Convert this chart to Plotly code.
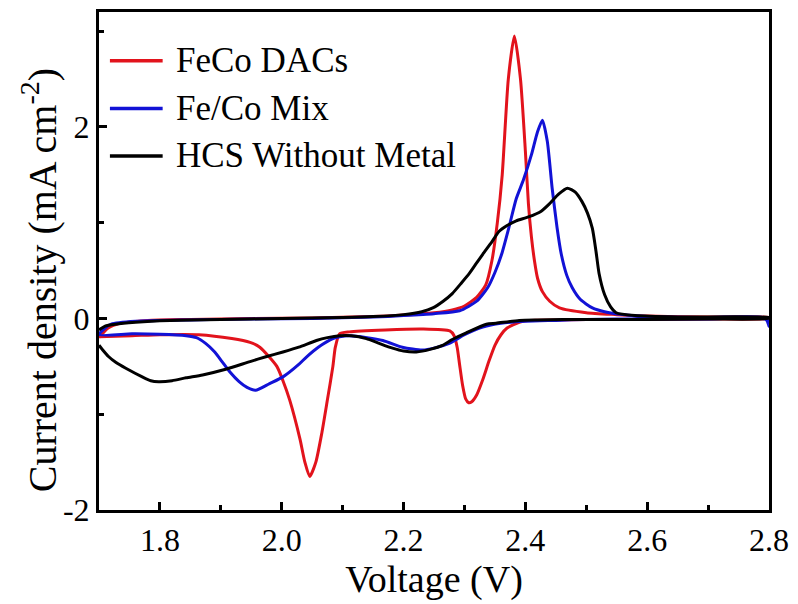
import plotly.graph_objects as go

# ---------------- data ----------------
series_names = ["FeCo DACs", "Fe/Co Mix", "HCS Without Metal"]
series_colors = ["#e2131c", "#1212d6", "#000000"]

# FeCo DACs : anodic sweep (1.7 -> 2.8) followed by cathodic sweep (2.8 -> 1.7)
feco_x = [1.700, 1.715, 1.735, 1.78, 1.85, 1.95, 2.05, 2.15, 2.20, 2.25, 2.28, 2.30, 2.32,
          2.335, 2.345, 2.354, 2.362, 2.372, 2.382, 2.392, 2.400, 2.405, 2.410, 2.415, 2.420,
          2.428, 2.440, 2.456, 2.50, 2.55, 2.60, 2.70, 2.80,
          2.80, 2.70, 2.60, 2.50, 2.45, 2.407, 2.39, 2.37, 2.36, 2.35, 2.34, 2.33,
          2.32, 2.312, 2.307, 2.302, 2.297, 2.292, 2.288, 2.283, 2.276, 2.231, 2.17, 2.111, 2.095,
          2.088, 2.084, 2.075, 2.066, 2.056, 2.046, 2.038, 2.030, 2.013, 2.002, 1.992,
          1.964, 1.948, 1.918, 1.864, 1.80, 1.754, 1.700]
feco_y = [-0.20, -0.10, -0.05, -0.02, -0.01, 0.0, 0.005, 0.02, 0.035, 0.06, 0.09, 0.13, 0.22,
          0.35, 0.60, 1.00, 1.50, 2.50, 2.95, 2.50, 1.75, 1.20, 0.85, 0.60, 0.42,
          0.28, 0.18, 0.11, 0.06, 0.04, 0.025, 0.015, 0.01,
          0.0, -0.005, -0.01, -0.01, -0.015, -0.02, -0.04, -0.10, -0.17, -0.28, -0.45, -0.64,
          -0.80, -0.87, -0.88, -0.84, -0.70, -0.48, -0.30, -0.18, -0.13, -0.11, -0.12, -0.14, -0.16,
          -0.30, -0.50, -0.85, -1.19, -1.50, -1.65, -1.50, -1.26, -0.85, -0.65, -0.50,
          -0.30, -0.25, -0.21, -0.17, -0.17, -0.18, -0.19]

# Fe/Co Mix
mix_x = [1.700, 1.710, 1.720, 1.76, 1.85, 1.95, 2.05, 2.15, 2.20, 2.25, 2.292, 2.32, 2.338,
         2.35, 2.361, 2.373, 2.385, 2.397, 2.41, 2.42, 2.428, 2.436, 2.444, 2.452, 2.459,
         2.468, 2.477, 2.49, 2.51, 2.53, 2.56, 2.60, 2.70, 2.795,
         2.80, 2.795, 2.70, 2.60, 2.50, 2.45, 2.40, 2.36, 2.33, 2.30, 2.275, 2.25, 2.231,
         2.215, 2.198, 2.166, 2.14, 2.111, 2.095, 2.084, 2.06, 2.041, 2.028, 2.002, 1.98,
         1.957, 1.943, 1.93, 1.915, 1.902, 1.89, 1.875, 1.86, 1.843, 1.80, 1.754, 1.700]
mix_y = [-0.17, -0.10, -0.06, -0.03, -0.015, -0.005, 0.0, 0.015, 0.03, 0.05, 0.08, 0.18, 0.32,
         0.48, 0.67, 0.95, 1.25, 1.45, 1.71, 1.95, 2.07, 1.85, 1.36, 0.95, 0.67,
         0.45, 0.32, 0.20, 0.11, 0.07, 0.04, 0.02, 0.01, 0.005,
         -0.08, -0.01, -0.005, -0.005, -0.01, -0.02, -0.03, -0.05, -0.09, -0.17, -0.26, -0.31, -0.33,
         -0.32, -0.30, -0.23, -0.20, -0.18, -0.19, -0.21, -0.30, -0.40, -0.48, -0.61, -0.68,
         -0.75, -0.72, -0.66, -0.56, -0.45, -0.35, -0.26, -0.20, -0.18, -0.165, -0.16, -0.17]

# HCS Without Metal
hcs_x = [1.700, 1.710, 1.727, 1.76, 1.80, 1.90, 2.00, 2.10, 2.15, 2.20, 2.23, 2.248, 2.265,
         2.28, 2.295, 2.308, 2.32, 2.33, 2.345, 2.357, 2.37, 2.385, 2.405, 2.426, 2.44,
         2.455, 2.469, 2.482, 2.493, 2.502, 2.51, 2.516, 2.521, 2.53, 2.54, 2.549, 2.58,
         2.65, 2.80,
         2.80, 2.70, 2.60, 2.50, 2.42, 2.39, 2.352, 2.336, 2.303, 2.28, 2.264, 2.245, 2.221,
         2.20, 2.182, 2.16, 2.139, 2.115, 2.095, 2.075, 2.057, 2.028, 2.002, 1.974, 1.948,
         1.908, 1.87, 1.843, 1.82, 1.798, 1.785, 1.771, 1.744, 1.728, 1.716, 1.705, 1.700]
hcs_y = [-0.12, -0.08, -0.06, -0.04, -0.025, -0.01, 0.0, 0.01, 0.02, 0.04, 0.07, 0.11, 0.18,
         0.26, 0.37, 0.47, 0.58, 0.67, 0.80, 0.91, 0.97, 1.02, 1.06, 1.12, 1.20,
         1.30, 1.36, 1.32, 1.22, 1.10, 0.94, 0.70, 0.47, 0.25, 0.12, 0.06, 0.03,
         0.015, 0.01,
         0.0, -0.005, -0.01, -0.01, -0.015, -0.02, -0.05, -0.06, -0.15, -0.22, -0.28, -0.32, -0.35,
         -0.34, -0.31, -0.26, -0.21, -0.18, -0.18, -0.20, -0.23, -0.30, -0.35, -0.40, -0.45,
         -0.53, -0.59, -0.62, -0.65, -0.66, -0.65, -0.61, -0.52, -0.46, -0.40, -0.32, -0.28]

x_tick_vals = [1.8, 2.0, 2.2, 2.4, 2.6, 2.8]
y_tick_vals = [-2, 0, 2]
y_tick_text = ["-2", "0", "2"]

x_title = "Voltage (V)"
y_title = "Current density (mA cm<sup>-2</sup>)"

# ---------------- figure ----------------
FONT = "Liberation Serif"
fig = go.Figure()
for xs, ys, name, col in zip([feco_x, mix_x, hcs_x], [feco_y, mix_y, hcs_y],
                             series_names, series_colors):
    fig.add_trace(go.Scatter(x=xs, y=ys, mode="lines", name=name,
                             line=dict(color=col, width=3, shape="spline", smoothing=0.6),
                             showlegend=False))

# custom legend (long sample lines like the reference)
leg_y = [0.902, 0.806, 0.711]
for name, col, yy in zip(series_names, series_colors, leg_y):
    fig.add_shape(type="line", xref="paper", yref="paper", x0=0.0163, x1=0.095,
                  y0=yy, y1=yy, line=dict(color=col, width=3.5))
    fig.add_annotation(xref="paper", yref="paper", x=0.112, y=yy, text=name,
                       showarrow=False, xanchor="left", yanchor="middle",
                       font=dict(family=FONT, size=35, color="black"))

# y-axis title (placed as in the reference, slightly below the plot centre)
fig.add_annotation(xref="paper", yref="paper", x=-0.0875, y=0.462, text=y_title,
                   textangle=-90, showarrow=False, xanchor="center", yanchor="middle",
                   font=dict(family=FONT, size=40, color="black"))

axis_common = dict(showline=True, linewidth=3, linecolor="black", mirror=True,
                   ticks="inside", ticklen=8, tickwidth=2.5, tickcolor="black",
                   showgrid=False, zeroline=False,
                   tickfont=dict(family=FONT, size=32, color="black"))

fig.update_xaxes(range=[1.7, 2.8], tickvals=x_tick_vals, tickformat=".1f",
                 minor=dict(ticks="inside", ticklen=5, tickwidth=2.5, tickcolor="black", dtick=0.1,
                            tick0=1.7, showgrid=False),
                 title=dict(text=x_title, font=dict(family=FONT, size=38, color="black"),
                            standoff=2),
                 **axis_common)
fig.update_yaxes(range=[-2, 3.2], tickvals=y_tick_vals, ticktext=y_tick_text,
                 minor=dict(ticks="inside", ticklen=5, tickwidth=2.5, tickcolor="black", dtick=1,
                            tick0=-2, showgrid=False),
                 **axis_common)

fig.update_layout(width=798, height=604, margin=dict(l=99, r=25, t=9, b=94),
                  paper_bgcolor="white", plot_bgcolor="white", showlegend=False,
                  font=dict(family=FONT, color="black"))

fig.write_html("out.html")
